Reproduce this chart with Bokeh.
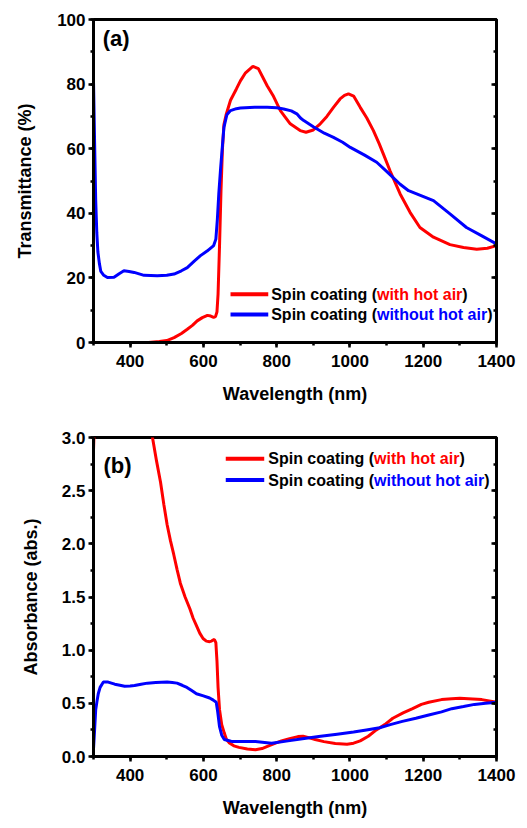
from bokeh.plotting import figure
from bokeh.layouts import column
from bokeh.models import (Range1d, LinearAxis, SingleIntervalTicker, Label, PrintfTickFormatter,
                          CustomJSTickFormatter)
from bokeh.embed import file_html
from bokeh.resources import INLINE

# ---------------- data ----------------
wl_T_red = [300, 350, 400, 450, 480, 500, 520, 540, 556, 570, 583, 597, 611, 620, 628, 633, 637, 640, 644, 648, 652, 656,
            662, 674, 690, 701, 715, 735, 750, 774, 790, 810, 837, 864, 880, 900, 919, 937, 955, 973, 985, 996, 1010,
            1028, 1046, 1064, 1080, 1091, 1110, 1137, 1164, 1191, 1228, 1273, 1310, 1346, 1375, 1400]
T_red = [0, 0, 0, 0, 0.3, 0.6, 1.5, 2.8, 4.1, 5.3, 6.7, 7.7, 8.4, 8.2, 7.8, 8.0, 9.5, 15, 30, 47, 60, 67.5,
         70.5, 75, 78.5, 81, 83.5, 85.5, 84.8, 79.5, 76.5, 71.8, 67.7, 65.6, 65.1, 65.8, 67.7, 70, 72.8, 75.4, 76.5, 77, 76.3,
         72.8, 69.5, 65.6, 61.5, 58.4, 53, 46, 40.3, 35.6, 32.6, 30.3, 29.4, 28.9, 29.2, 30]

wl_T_blue = [300, 303, 306, 309, 312, 316, 320, 328, 338, 356, 370, 383, 397, 411, 438, 474, 500, 520, 540, 556, 575,
             592, 610, 628, 634, 638, 642, 647, 652, 656, 664, 674, 690, 701, 740, 774, 800, 819, 840, 855, 865, 874,
             900, 930, 955, 980, 1001, 1040, 1073, 1100, 1137, 1160, 1182, 1228, 1273, 1318, 1360, 1400]
T_blue = [81, 62, 44, 34, 28, 24.5, 22, 20.8, 20.1, 20.2, 21.3, 22.2, 22.0, 21.7, 20.8, 20.7, 20.8, 21.2, 22.2, 23.2, 25.2,
          26.9, 28.3, 30, 32, 38, 46, 54, 61, 66.6, 70.5, 71.8, 72.4, 72.6, 72.8, 72.8, 72.7, 72.3, 71.7, 70.8, 69.5, 68.7,
          66.8, 64.8, 63.5, 62, 60.4, 58, 55.8, 53, 49, 47, 46, 43.9, 39.8, 35.6, 33, 30.5]

wl_A_red = [300, 302, 310, 350, 400, 440, 461, 472, 483, 492, 501, 510, 519, 528, 537, 550, 563, 572, 581, 590, 599,
            608, 617, 622, 626, 630, 634, 637, 640, 644, 650, 657, 663, 670, 683, 697, 720, 742, 760, 778, 795, 813,
            835, 858, 872, 885, 905, 929, 960, 992, 1010, 1028, 1050, 1072, 1095, 1117, 1145, 1171, 1195, 1215, 1250,
            1278, 1300, 1323, 1360, 1400]
A_red = [2.88, 3.1, 3.6, 3.8, 3.8, 3.4, 3.0, 2.78, 2.58, 2.37, 2.18, 2.03, 1.9, 1.76, 1.63, 1.5, 1.39, 1.3, 1.23, 1.16, 1.11,
         1.085, 1.08, 1.085, 1.095, 1.10, 1.07, 0.9, 0.65, 0.44, 0.3, 0.22, 0.16, 0.13, 0.10, 0.086, 0.07, 0.064, 0.075, 0.10,
         0.124, 0.147, 0.168, 0.187, 0.19, 0.18, 0.16, 0.14, 0.122, 0.116, 0.125, 0.147, 0.19, 0.25, 0.30, 0.36, 0.41, 0.45,
         0.49, 0.51, 0.535, 0.544, 0.548, 0.544, 0.535, 0.51]

wl_A_blue = [300, 303, 306, 310, 313, 318, 327, 340, 358, 372, 385, 400, 412, 430, 447, 470, 501, 515, 528, 542, 555,
             568, 581, 600, 617, 627, 635, 639, 644, 650, 657, 668, 679, 700, 742, 786, 831, 875, 920, 965, 1010, 1045,
             1081, 1110, 1143, 1180, 1215, 1250, 1278, 1310, 1340, 1370, 1400]
A_blue = [0.07, 0.25, 0.44, 0.53, 0.59, 0.65, 0.70, 0.70, 0.68, 0.67, 0.66, 0.663, 0.667, 0.68, 0.69, 0.695, 0.70, 0.695,
          0.69, 0.67, 0.65, 0.62, 0.59, 0.57, 0.55, 0.53, 0.51, 0.42, 0.28, 0.2, 0.16, 0.15, 0.14, 0.14, 0.14, 0.125,
          0.147, 0.17, 0.19, 0.21, 0.23, 0.25, 0.27, 0.30, 0.33, 0.36, 0.39, 0.42, 0.45, 0.47, 0.49, 0.50, 0.51]

x_ticks_interval = 200
series_labels = ["with hot air", "without hot air"]
series_colors = ["#ff0000", "#0000ff"]
panel_labels = ["(a)", "(b)"]
x_title = "Wavelength (nm)"
y_titles = ["Transmittance (%)", "Absorbance (abs.)"]

FONT = "Liberation Sans"
LEG_FS = 16  # px


def str_width(s, fs):
    # Arial Bold advance widths (per 1000 em); Liberation Sans Bold is metric compatible
    w = {'S': 667, 'p': 611, 'i': 278, 'n': 611, ' ': 278, 'c': 556, 'o': 611, 'a': 556, 't': 333, 'g': 611,
         '(': 333, ')': 333, 'w': 778, 'h': 611, 'r': 389, 'u': 611}
    return sum(w.get(ch, 556) for ch in s) * fs / 1000.0


def style(p, yint, ylabel_standoff):
    p.xgrid.visible = False
    p.ygrid.visible = False
    p.outline_line_color = "black"
    p.outline_line_width = 3
    p.background_fill_color = "white"
    p.border_fill_color = "white"
    xt = SingleIntervalTicker(interval=x_ticks_interval, num_minor_ticks=2)
    yt = SingleIntervalTicker(interval=yint, num_minor_ticks=2)
    p.xaxis.ticker = xt
    p.yaxis.ticker = yt
    for ax in (p.xaxis[0], p.yaxis[0]):
        ax.axis_line_width = 3
        ax.major_tick_line_width = 2.5
        ax.minor_tick_line_width = 2.5
        ax.major_tick_out = 5
        ax.major_tick_in = 0
        ax.minor_tick_out = 3
        ax.minor_tick_in = 0
        ax.major_label_text_font = FONT
        ax.major_label_text_font_style = "bold"
        ax.major_label_text_font_size = "17px"
        ax.major_label_text_color = "black"
        ax.axis_label_text_font = FONT
        ax.axis_label_text_font_style = "bold"
        ax.axis_label_text_font_size = "18px"
        ax.axis_label_text_color = "black"
    p.xaxis.major_label_standoff = 7
    p.xaxis.axis_label_standoff = 14
    p.yaxis.major_label_standoff = 3
    p.yaxis.axis_label_standoff = ylabel_standoff
    ra = LinearAxis(ticker=yt, formatter=CustomJSTickFormatter(code="return ''"),
                    major_tick_in=5, major_tick_out=0,
                    minor_tick_in=3, minor_tick_out=0, axis_line_width=3, major_tick_line_width=2.5,
                    minor_tick_line_width=2.5, major_label_standoff=0)
    p.add_layout(ra, "right")


def legend(p, x_line0, x_line1, x_text, ys):
    for lab, col, y in zip(series_labels, series_colors, ys):
        p.segment(x0=[x_line0], y0=[y], x1=[x_line1], y1=[y], line_color=col, line_width=4)
        parts = [("Spin coating (", "black"), (lab, col), (")", "black")]
        off = 0.0
        for txt, c in parts:
            p.add_layout(Label(x=x_text, y=y, x_offset=off, text=txt, text_color=c, text_font=FONT,
                               text_font_style="bold", text_font_size=f"{LEG_FS}px",
                               text_baseline="middle", text_align="left"))
            off += str_width(txt, LEG_FS)


# ---------------- panel (a) ----------------
p1 = figure(width=519, height=408, output_backend="svg", toolbar_location=None,
            x_range=Range1d(300, 1400), y_range=Range1d(0, 100),
            min_border_left=93, min_border_right=22, min_border_top=19, min_border_bottom=66)
p1.xaxis.axis_label = x_title
p1.yaxis.axis_label = y_titles[0]
style(p1, 20, 19)
p1.line(wl_T_red, T_red, line_color=series_colors[0], line_width=3)
p1.line(wl_T_blue, T_blue, line_color=series_colors[1], line_width=3)
p1.add_layout(Label(x=325, y=94, text=panel_labels[0], text_font=FONT, text_font_style="bold",
                    text_font_size="22px", text_baseline="middle", text_color="black"))
legend(p1, 674, 777, 785, [14.9, 8.7])

# ---------------- panel (b) ----------------
p2 = figure(width=519, height=412, output_backend="svg", toolbar_location=None,
            x_range=Range1d(300, 1400), y_range=Range1d(0, 3),
            min_border_left=85, min_border_right=23, min_border_top=29, min_border_bottom=56)
p2.xaxis.axis_label = x_title
p2.yaxis.axis_label = y_titles[1]
style(p2, 0.5, 18)
p2.yaxis[0].formatter = PrintfTickFormatter(format="%.1f")
p2.line(wl_A_red, A_red, line_color=series_colors[0], line_width=3)
p2.line(wl_A_blue, A_blue, line_color=series_colors[1], line_width=3)
p2.add_layout(Label(x=327, y=2.74, text=panel_labels[1], text_font=FONT, text_font_style="bold",
                    text_font_size="22px", text_baseline="middle", text_color="black"))
legend(p2, 661, 766, 777, [2.80, 2.60])

layout = column(p1, p2, spacing=0)
open("out.html", "w").write(file_html(layout, INLINE))
